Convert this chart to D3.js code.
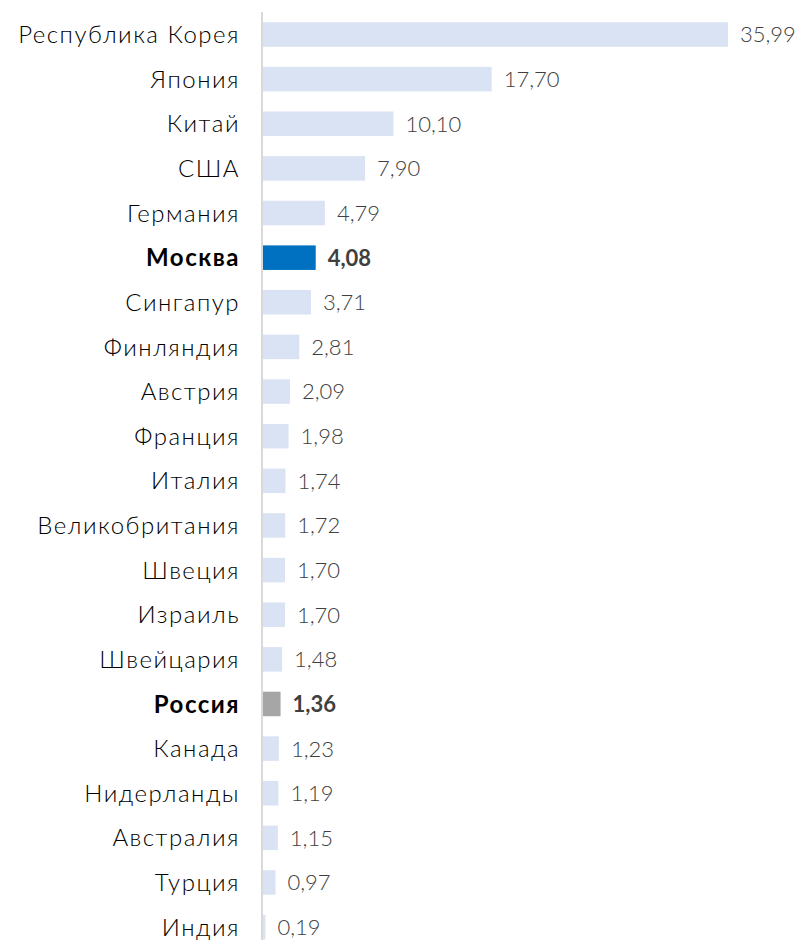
<!DOCTYPE html>
<html>
<head>
<meta charset="utf-8">
<script src="https://cdn.jsdelivr.net/npm/d3@7"></script>
<style>
  html, body { margin: 0; padding: 0; background: #ffffff; }
  svg text { font-family: "Lato", "Open Sans", sans-serif; }
</style>
</head>
<body>
<svg id="chart" width="800" height="940"></svg>
<script>
// Categories, top to bottom
const categories = [
  "Республика Корея", "Япония", "Китай", "США", "Германия", "Москва",
  "Сингапур", "Финляндия", "Австрия", "Франция", "Италия", "Великобритания",
  "Швеция", "Израиль", "Швейцария", "Россия", "Канада", "Нидерланды",
  "Австралия", "Турция", "Индия"
];
const values = [
  35.99, 17.70, 10.10, 7.90, 4.79, 4.08,
  3.71, 2.81, 2.09, 1.98, 1.74, 1.72,
  1.70, 1.70, 1.48, 1.36, 1.23, 1.19,
  1.15, 0.97, 0.19
];
// Rows drawn with emphasis
const highlightBlue = ["Москва"];
const highlightGray = ["Россия"];

const data = categories.map((c, i) => ({ name: c, value: values[i] }));

const svg = d3.select("#chart");
const axisX = 262;

const x = d3.scaleLinear().domain([0, 35.99]).range([axisX + 1, 728]);
const y = d3.scaleBand()
  .domain(categories)
  .range([12.2, 12.2 + 44.63 * categories.length])
  .paddingInner(0.45)
  .paddingOuter(0.225);

const fmt = v => d3.format(".2f")(v).replace(".", ",");

const fillFor = d => highlightBlue.includes(d.name) ? "#0070c0"
  : highlightGray.includes(d.name) ? "#a6a6a6" : "#dae3f3";
const isBold = d => highlightBlue.includes(d.name) || highlightGray.includes(d.name);

// bars
svg.append("g").selectAll("rect").data(data).join("rect")
  .attr("x", x(0))
  .attr("y", d => y(d.name))
  .attr("width", d => x(d.value) - x(0))
  .attr("height", y.bandwidth())
  .attr("fill", fillFor);

// vertical category axis line
svg.append("line")
  .attr("x1", axisX).attr("x2", axisX)
  .attr("y1", 12).attr("y2", 940)
  .attr("stroke", "#d9d9d9").attr("stroke-width", 2);

// category labels
svg.append("g").selectAll("text").data(data).join("text")
  .attr("x", 240)
  .attr("y", d => y(d.name) + y.bandwidth() / 2)
  .attr("dy", "0.36em")
  .attr("text-anchor", "end")
  .attr("font-size", 24)
  .attr("letter-spacing", 1.5)
  .attr("font-weight", d => isBold(d) ? 700 : 300)
  .attr("fill", "#000000")
  .text(d => d.name);

// value labels
svg.append("g").selectAll("text").data(data).join("text")
  .attr("x", d => x(d.value) + 12)
  .attr("y", d => y(d.name) + y.bandwidth() / 2)
  .attr("dy", "0.36em")
  .attr("font-size", 22)
  .attr("font-weight", d => isBold(d) ? 700 : 300)
  .attr("fill", "#404040")
  .text(d => fmt(d.value));
</script>
</body>
</html>
